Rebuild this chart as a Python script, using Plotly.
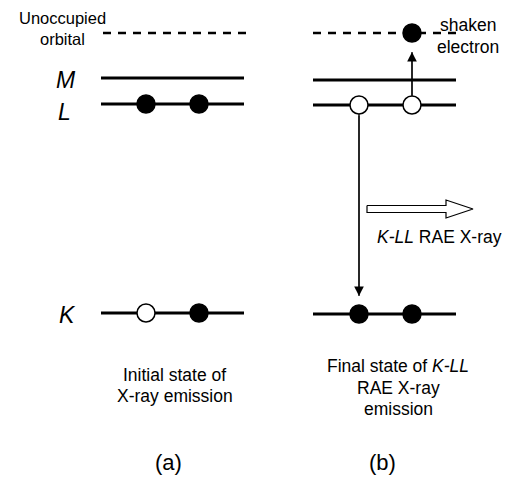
import plotly.graph_objects as go

# Energy levels of the two panels (vertical position on a 512 x 479 canvas)
level_labels = ["M", "L", "K"]
level_label_x = [66, 64, 67]
level_label_y = [80, 112, 315]
level_y_a = [78, 104, 313]
level_y_b = [80, 105, 314]
unocc_y = [33, 33]
span_a = [101, 244]
span_b = [313, 456]
dash_span_a = [103, 252]
dash_span_b = [313, 463]

# Electrons / holes: x, y, filled?
elec_a_x = [146, 199, 146, 199]
elec_a_y = [104, 104, 313, 313]
elec_a_fill = [True, True, False, True]
elec_b_x = [359, 412, 359, 412, 412]
elec_b_y = [105, 105, 314, 314, 33]
elec_b_fill = [False, False, True, True, True]

# Transitions (tail -> head)
shake_arrow = dict(x=412, y0=97, y1=52)
fill_arrow = dict(x=359, y0=114, y1=296)

# Outgoing photon (hollow arrow)
photon_x = [367, 446, 446, 473, 446, 446, 367, 367]
photon_y = [205.5, 205.5, 200, 209, 218, 212.5, 212.5, 205.5]

FONT = "Liberation Sans, Arial, sans-serif"

fig = go.Figure()

# solid levels
for ys, span in ((level_y_a, span_a), (level_y_b, span_b)):
    for y in ys:
        fig.add_trace(go.Scatter(x=span, y=[y, y], mode="lines",
                                 line=dict(color="black", width=3),
                                 hoverinfo="skip", showlegend=False))

# dashed unoccupied orbital
for span, y in ((dash_span_a, unocc_y[0]), (dash_span_b, unocc_y[1])):
    fig.add_trace(go.Scatter(x=span, y=[y, y], mode="lines",
                             line=dict(color="black", width=2.5, dash="8px,7px"),
                             hoverinfo="skip", showlegend=False))

# arrow shafts
for a in (shake_arrow, fill_arrow):
    fig.add_trace(go.Scatter(x=[a["x"], a["x"]], y=[a["y0"], a["y1"]], mode="lines",
                             line=dict(color="black", width=1.2),
                             hoverinfo="skip", showlegend=False))

# hollow photon arrow
fig.add_trace(go.Scatter(x=photon_x, y=photon_y, mode="lines", fill="toself",
                         fillcolor="white", line=dict(color="black", width=1.2),
                         hoverinfo="skip", showlegend=False))

# electrons and holes
for xs, ys, fills in ((elec_a_x, elec_a_y, elec_a_fill), (elec_b_x, elec_b_y, elec_b_fill)):
    fig.add_trace(go.Scatter(
        x=xs, y=ys, mode="markers",
        marker=dict(size=18, color=["black" if f else "white" for f in fills],
                    line=dict(color="black", width=1.5)),
        hoverinfo="skip", showlegend=False))

# arrowheads
for a in (shake_arrow, fill_arrow):
    fig.add_annotation(x=a["x"], y=a["y1"], ax=a["x"], ay=a["y0"],
                       xref="x", yref="y", axref="x", ayref="y",
                       showarrow=True, arrowhead=2, arrowsize=1.6, arrowwidth=1.2,
                       arrowcolor="black", text="")

def label(x, y, text, size=17, **kw):
    fig.add_annotation(x=x, y=y, xref="x", yref="y", text=text, showarrow=False,
                       font=dict(family=FONT, size=size, color="black"), **kw)

label(62, 18, "Unoccupied", 16.5)
label(62, 39, "orbital", 16.5)
for name, lx, ly in zip(level_labels, level_label_x, level_label_y):
    label(lx, ly, f"<i>{name}</i>", 23)
label(468, 25, "shaken", 17.5)
label(468, 47, "electron", 17.5)
label(439, 237, "<i>K-LL</i> RAE X-ray", 17.5)
label(174, 375, "Initial state of", 17.5)
label(175, 396, "X-ray emission", 17.5)
label(398, 366, "Final state of <i>K-LL</i>", 17.5)
label(398, 388, "RAE X-ray", 17.5)
label(398, 409, "emission", 17.5)
label(168, 462, "(a)", 22)
label(382, 462, "(b)", 22)

fig.update_layout(
    width=512, height=479, margin=dict(l=0, r=0, t=0, b=0),
    paper_bgcolor="white", plot_bgcolor="white",
    xaxis=dict(range=[0, 512], visible=False, fixedrange=True),
    yaxis=dict(range=[479, 0], visible=False, fixedrange=True),
)

fig.write_html("out.html")
